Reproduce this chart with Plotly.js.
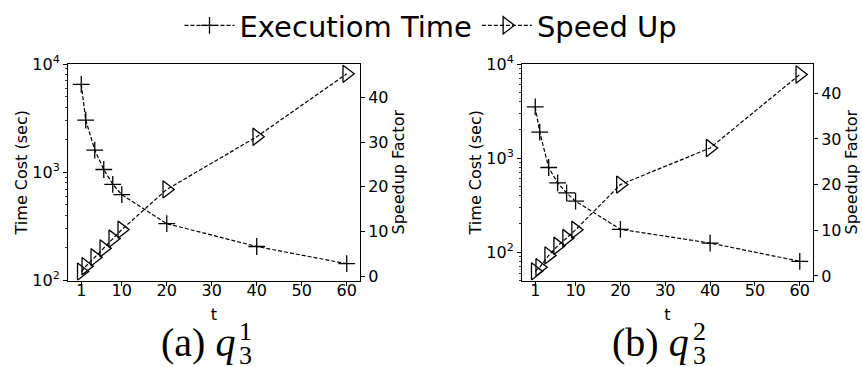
<!DOCTYPE html>
<html><head><meta charset="utf-8">
<script src="https://cdn.plot.ly/plotly-3.0.1.min.js"></script>
<style>html,body{margin:0;padding:0;background:#fff}</style>
</head><body><div id="chart" style="width:862px;height:367px"></div>
<script>
const threads = [1, 2, 4, 6, 8, 10, 20, 40, 60];
const timeQ31 = [6490, 3030, 1600, 1060, 774, 621, 335, 206, 143];
const speedQ31 = [1.0, 2.2, 4.2, 6.2, 8.4, 10.4, 19.4, 31.2, 45.3];
const timeQ32 = [3510, 1890, 794, 545, 426, 348, 175, 125, 80];
const speedQ32 = [1.0, 1.9, 4.5, 6.6, 8.3, 10.1, 20.0, 28.0, 44.1];
const seriesNames = ['Executiom Time', 'Speed Up'];
const xTickVals = [1, 10, 20, 30, 40, 50, 60];
const logTickVals = [100, 1000, 10000];
const logTickText = ['10<sup>2</sup>', '10<sup>3</sup>', '10<sup>4</sup>'];
const speedTickVals = [0, 10, 20, 30, 40];
const captionLabels = ['(a) ', '(b) '];
const captionSup = ['1', '2'];
const captionSub = ['3', '3'];

const minorLog = [];
[1, 2, 3].forEach(d => { for (let k = 2; k <= 9; k++) minorLog.push(k * Math.pow(10, d)); });

const lineStyle = {color: '#000', width: 1.2, dash: '4px,2px'};
const crossMarker = {symbol: 'cross-thin-open', size: 12, color: '#000', line: {color: '#000', width: 1.3}};
const triMarker = {symbol: 'triangle-right-open', size: 15, color: '#000', line: {color: '#000', width: 1.3}};

const traces = [
  {x: threads, y: timeQ31, xaxis: 'x', yaxis: 'y', name: seriesNames[0], mode: 'lines+markers', line: lineStyle, marker: crossMarker, legendgroup: 't'},
  {x: threads, y: speedQ31, xaxis: 'x', yaxis: 'y2', name: seriesNames[1], mode: 'lines+markers', line: lineStyle, marker: triMarker, legendgroup: 's'},
  {x: threads, y: timeQ32, xaxis: 'x2', yaxis: 'y3', name: seriesNames[0], mode: 'lines+markers', line: lineStyle, marker: crossMarker, legendgroup: 't', showlegend: false},
  {x: threads, y: speedQ32, xaxis: 'x2', yaxis: 'y4', name: seriesNames[1], mode: 'lines+markers', line: lineStyle, marker: triMarker, legendgroup: 's', showlegend: false}
];

const tickFont = {family: 'DejaVu Sans', size: 16, color: '#000'};
const titleFont = {family: 'DejaVu Sans', size: 16, color: '#000'};
const yDom = [1 - 280.5 / 367, 1 - 64 / 367];

function xAxis(domain, anchor) {
  return {domain: domain, anchor: anchor, range: [-1.95, 62.95], tickmode: 'array', tickvals: xTickVals,
    ticks: 'outside', ticklen: 4, tickwidth: 1, tickcolor: '#000', showline: true, linecolor: '#000', linewidth: 1,
    mirror: true, showgrid: false, zeroline: false, tickfont: tickFont, automargin: false, ticklabelstandoff: -9,
    title: {text: 't', font: titleFont, standoff: 10}};
}
function logAxis(anchor, range) {
  return {domain: yDom, anchor: anchor, type: 'log', range: range, tickmode: 'array', tickvals: logTickVals, ticktext: logTickText,
    ticks: 'outside', ticklen: 4, tickwidth: 1, tickcolor: '#000', showline: true, linecolor: '#000', linewidth: 1,
    mirror: true, showgrid: false, zeroline: false, tickfont: tickFont, automargin: false,
    minor: {ticks: 'outside', ticklen: 2, tickwidth: 0.8, tickcolor: '#000', tickvals: minorLog, showgrid: false},
    title: {text: 'Time Cost (sec)', font: titleFont, standoff: 0}};
}
function speedAxis(over, anchor, range) {
  return {overlaying: over, anchor: anchor, side: 'right', range: range, tickmode: 'array', tickvals: speedTickVals,
    ticks: 'outside', ticklen: 4, tickwidth: 1, tickcolor: '#000', showline: false, showgrid: false, zeroline: false,
    tickfont: tickFont, automargin: false, title: {text: 'Speedup Factor', font: titleFont, standoff: 4}};
}

const xDom1 = [68 / 862, 360 / 862];
const xDom2 = [522 / 862, 813 / 862];

const annotations = [];
const capX = [237, 690.7];
capX.forEach((cx, i) => {
  annotations.push({xref: 'paper', yref: 'paper', x: cx / 862, y: 1 - 342 / 367, xanchor: 'right', yanchor: 'middle', showarrow: false,
    text: captionLabels[i] + '<i>q</i>', font: {family: 'Liberation Serif', size: 40, color: '#000'}});
  annotations.push({xref: 'paper', yref: 'paper', x: (cx + 9) / 862, y: 1 - 331 / 367, xanchor: 'center', yanchor: 'middle', showarrow: false,
    text: captionSup[i], font: {family: 'Liberation Serif', size: 26, color: '#000'}});
  annotations.push({xref: 'paper', yref: 'paper', x: (cx + 9) / 862, y: 1 - 355 / 367, xanchor: 'center', yanchor: 'middle', showarrow: false,
    text: captionSub[i], font: {family: 'Liberation Serif', size: 26, color: '#000'}});
});

const layout = {
  width: 862, height: 367, margin: {l: 0, r: 0, t: 0, b: 0},
  paper_bgcolor: '#fff', plot_bgcolor: '#fff',
  font: {family: 'DejaVu Sans', color: '#000'},
  showlegend: true,
  legend: {orientation: 'h', x: 0.5, xanchor: 'center', y: 1, yanchor: 'top', itemwidth: 50,
    font: {family: 'DejaVu Sans', size: 29, color: '#000'}, bgcolor: 'rgba(0,0,0,0)'},
  xaxis: xAxis(xDom1, 'y'),
  yaxis: logAxis('x', [2, 4]),
  yaxis2: speedAxis('y', 'x', [-1.0, 47.5]),
  xaxis2: xAxis(xDom2, 'y3'),
  yaxis3: logAxis('x2', [Math.log10(50), 4]),
  yaxis4: speedAxis('y3', 'x2', [-1.0, 46.4]),
  annotations: annotations
};

Plotly.newPlot('chart', traces, layout, {staticPlot: true, displayModeBar: false});
</script></body></html>
